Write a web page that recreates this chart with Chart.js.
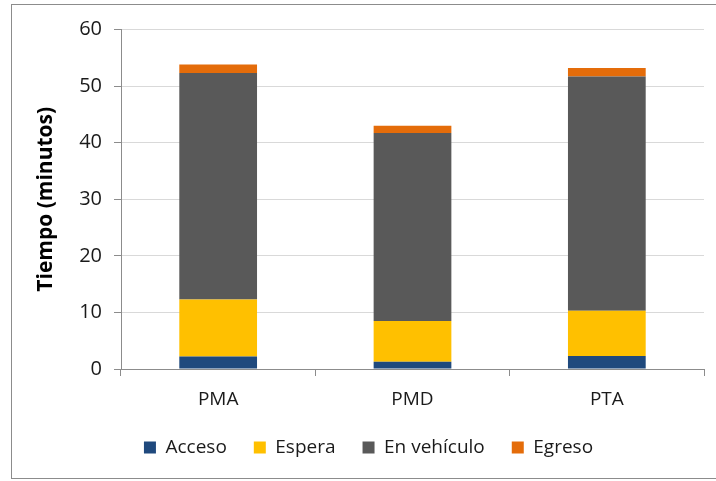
<!DOCTYPE html>
<html>
<head>
<meta charset="utf-8">
<script src="https://cdn.jsdelivr.net/npm/chart.js@4"></script>
<style>
  body { margin: 0; background: #fff; }
  #wrap { position: relative; width: 716px; height: 481px; overflow: hidden; }
  #frame { position: absolute; left: 11px; top: 4px; width: 720px; height: 475px; border: 1px solid #8c8c8c; box-sizing: border-box; }
  canvas { position: absolute; left: 0; top: 0; }
</style>
</head>
<body>
<div id="wrap">
  <div id="frame"></div>
  <canvas id="chart" width="716" height="481"></canvas>
</div>
<script>
// Datos del gráfico
const categorias = ["PMA", "PMD", "PTA"];
const acceso = [2.2, 1.3, 2.3];
const espera = [10.1, 7.2, 8.0];
const enVehiculo = [40.0, 33.2, 41.4];
const egreso = [1.5, 1.3, 1.5];
const ticksY = [0, 10, 20, 30, 40, 50, 60];

const fuente = "'Open Sans', 'Liberation Sans', sans-serif";
const ctx = document.getElementById("chart").getContext("2d");

new Chart(ctx, {
  type: "bar",
  data: {
    labels: categorias,
    datasets: [
      { label: "Acceso", data: acceso, backgroundColor: "#1F497D" },
      { label: "Espera", data: espera, backgroundColor: "#FFC000" },
      { label: "En vehículo", data: enVehiculo, backgroundColor: "#595959" },
      { label: "Egreso", data: egreso, backgroundColor: "#E46C0A" },
    ],
  },
  options: {
    responsive: false,
    animation: false,
    layout: { padding: { left: 33, top: 29.5, right: 12, bottom: 14 } },
    datasets: { bar: { categoryPercentage: 1, barPercentage: 0.4, borderWidth: 0 } },
    plugins: {
      tooltip: { enabled: false },
      legend: {
        position: "bottom",
        labels: {
          boxWidth: 12,
          boxHeight: 12,
          padding: 27,
          color: "#1a1a1a",
          font: { family: fuente, size: 19 },
        },
      },
    },
    scales: {
      x: {
        stacked: true,
        grid: { display: true, drawOnChartArea: false, offset: true, tickLength: 7, tickColor: "#8c8c8c" },
        border: { color: "#8c8c8c" },
        ticks: { color: "#1a1a1a", font: { family: fuente, size: 19 }, padding: 12 },
        afterFit: (scale) => {
          scale.height = 42;
          scale.paddingLeft = 0;
          scale.paddingRight = 0;
        },
      },
      y: {
        stacked: true,
        min: 0,
        max: 60,
        afterBuildTicks: (scale) => {
          scale.ticks = ticksY.map((v) => ({ value: v }));
        },
        grid: { color: "#d9d9d9", tickLength: 7, tickColor: "#8c8c8c" },
        border: { color: "#8c8c8c" },
        ticks: { color: "#1a1a1a", font: { family: fuente, size: 20 }, padding: 12 },
        title: {
          display: true,
          text: "Tiempo (minutos)",
          color: "#000",
          font: { family: fuente, size: 21, weight: "bold" },
          padding: { top: 0, bottom: 0 },
        },
        afterFit: (scale) => {
          scale.width = 121 - 33;
          scale.paddingTop = 0;
          scale.paddingBottom = 0;
        },
      },
    },
  },
});
</script>
</body>
</html>
